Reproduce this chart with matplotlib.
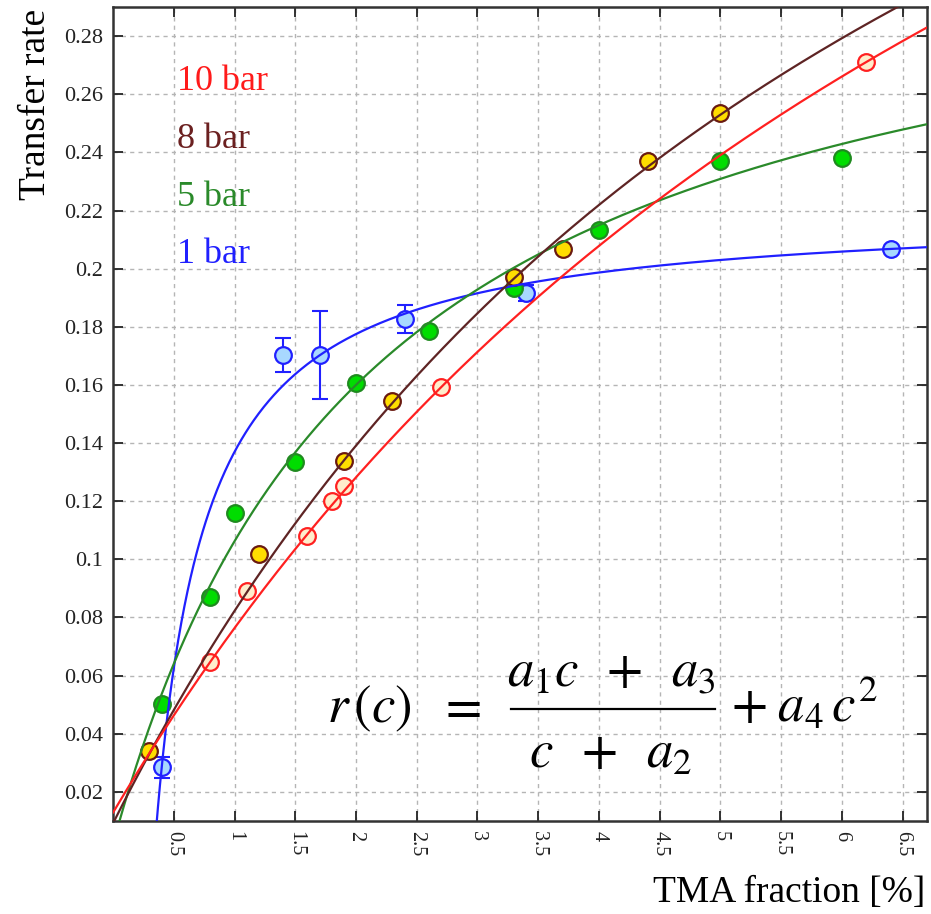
import numpy as np
import matplotlib
matplotlib.use("Agg")
import matplotlib.pyplot as plt
from matplotlib.lines import Line2D

plt.rcParams['font.family'] = ['Liberation Serif', 'DejaVu Serif']
plt.rcParams['mathtext.fontset'] = 'stix'

# measured transfer rates per pressure
c_1bar = [0.40, 1.40, 1.70, 2.40, 3.40, 6.40]
r_1bar = [0.0284, 0.1703, 0.1703, 0.1827, 0.1917, 0.2069]
e_1bar = [0.0037, 0.0058, 0.0150, 0.0048, 0.0028, 0.0]

c_5bar = [0.40, 0.80, 1.00, 1.50, 2.00, 2.60, 3.30, 4.00, 5.00, 6.00]
r_5bar = [0.0501, 0.0870, 0.1160, 0.1336, 0.1605, 0.1787, 0.1935, 0.2133, 0.2371, 0.2380]

c_8bar = [0.30, 1.20, 1.90, 2.30, 3.30, 3.70, 4.40, 5.00]
r_8bar = [0.0340, 0.1017, 0.1340, 0.1546, 0.1973, 0.2067, 0.2370, 0.2535]

c_10bar = [0.80, 1.10, 1.60, 1.80, 1.90, 2.70, 6.20]
r_10bar = [0.0647, 0.0890, 0.1080, 0.1202, 0.1253, 0.1592, 0.2711]

# fit parameters of r(c) = (a1 c + a3)/(c + a2) + a4 c^2, order: 1, 5, 8, 10 bar
a1 = [0.2205, 0.3286, 0.5954, 0.6425]
a2 = [0.0609, 2.135, 7.022, 8.918]
a3 = [-0.0752, 0.0044, 0.0644, 0.1148]
a4 = [0.0, 0.0, 0.0, 0.0]

labels = ['1 bar', '5 bar', '8 bar', '10 bar']
x_ticks = [0.5, 1, 1.5, 2, 2.5, 3, 3.5, 4, 4.5, 5, 5.5, 6, 6.5]
y_ticks = [0.02, 0.04, 0.06, 0.08, 0.1, 0.12, 0.14, 0.16, 0.18, 0.2, 0.22, 0.24, 0.26, 0.28]

line_col = ['#2020ff', '#2a8a2a', '#5e2424', '#ff2020']
face_col = ['#a8d8ff', '#00dd00', '#ffdd00', '#ffedcc']
edge_col = ['#2020ff', '#1f8a1f', '#6a1a10', '#ff2020']
text_col = ['#2020ff', '#2a8a2a', '#6b2020', '#ff1a1a']

W, H = 931, 914


def rate(c, p1, p2, p3, p4):
    return (p1 * c + p3) / (c + p2) + p4 * c ** 2


def px(x, y):
    # pixel position (from top-left) to figure fraction
    return x / W, 1 - y / H


fig = plt.figure(figsize=(W / 100, H / 100), dpi=100)
ax = fig.add_axes([0.1214, 0.1018, 0.8743, 0.8905])
ax.set_xlim(0, 6.7)
ax.set_ylim(0.01, 0.29)

series = [(c_1bar, r_1bar), (c_5bar, r_5bar), (c_8bar, r_8bar), (c_10bar, r_10bar)]

# error bars only for the 1 bar set
ax.errorbar(c_1bar, r_1bar, yerr=e_1bar, fmt='none', ecolor=line_col[0],
            elinewidth=1.5, capsize=6, capthick=1.5, zorder=3)

cc = np.linspace(0.001, 6.7, 800)
for i, (cx, ry) in enumerate(series):
    ax.plot(cx, ry, 'o', ms=12, mfc=face_col[i], mec=edge_col[i], mew=1.6, zorder=4)
    ax.plot(cc, rate(cc, a1[i], a2[i], a3[i], a4[i]), color=line_col[i], lw=1.6, zorder=5)

ax.set_xticks(x_ticks)
ax.set_xticklabels([f'{v:g}' for v in x_ticks], rotation=270, fontsize=14.5)
ax.set_yticks(y_ticks)
ax.set_yticklabels([f'{v:g}' for v in y_ticks], fontsize=16)
ax.tick_params(direction='in', length=7, width=1.3, top=True, right=True,
               colors='#222222', pad=7)
ax.grid(True, color='#b5b5b5', linestyle=(0, (3, 3)), linewidth=1)
for s in ax.spines.values():
    s.set_linewidth(1.8)
    s.set_color('#333333')

# pressure labels, top to bottom
for i, y in zip([3, 2, 1, 0], [0.2645, 0.2443, 0.2244, 0.2050]):
    ax.text(0.53, y, labels[i], color=text_col[i], fontsize=26, va='center', ha='left')

# fit function, set piece by piece
fs = 38
fig.text(*px(327, 722), r'$r\,(c)$', fontsize=fs, ha='left', va='baseline')
fig.text(*px(460, 722), r'$=$', fontsize=fs, ha='center', va='baseline')
fig.text(*px(611, 686), r'$a_1c\;\;+\;\;a_3$', fontsize=fs, ha='center', va='baseline')
fig.text(*px(611, 768), r'$c\;\;+\;\;a_2$', fontsize=fs, ha='center', va='baseline')
fig.add_artist(Line2D([511 / W, 715 / W], [1 - 709 / H] * 2,
                      transform=fig.transFigure, color='black', lw=1.6))
fig.text(*px(731, 722), r'$+\;a_4\,c^2$', fontsize=fs, ha='left', va='baseline')

fig.text(0.994, 0.023, 'TMA fraction [%]', fontsize=27, ha='right', va='center')
fig.text(0.038, 0.99, 'Transfer rate', fontsize=27, rotation=90, ha='center', va='top')

fig.savefig('out.png', dpi=100, facecolor='white')
